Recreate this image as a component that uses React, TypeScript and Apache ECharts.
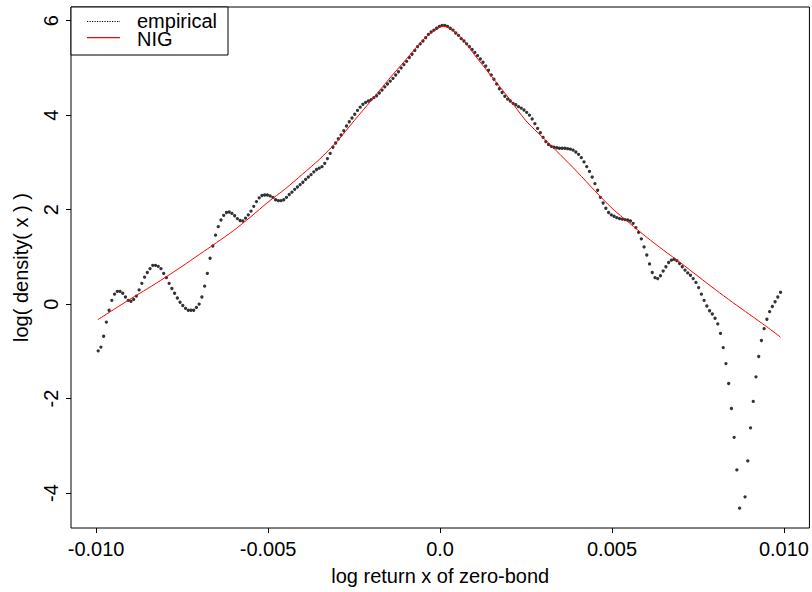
import React, { useEffect, useRef } from "react";
import * as echarts from "echarts";

// Empirical log-density, evaluated on an evenly spaced grid of 251 points
const gridStart = -0.00994;
const gridStep = 0.00007936;
const empirical: (number | null)[] = [
  -0.99, -0.91, -0.68, -0.38, -0.13, 0.08, 0.21, 0.27, 0.27, 0.23,
  0.15, 0.08, 0.06, 0.10, 0.17, 0.30, 0.44, 0.57, 0.67, 0.75,
  0.82, 0.82, 0.80, 0.75, 0.65, 0.56, 0.44, 0.33, 0.23, 0.13,
  0.04, -0.03, -0.09, -0.13, -0.13, -0.13, -0.07, 0.00, 0.15, 0.38,
  0.65, 0.97, 1.23, 1.46, 1.64, 1.78, 1.88, 1.94, 1.95, 1.92,
  1.87, 1.81, 1.77, 1.76, 1.82, 1.89, 1.97, 2.07, 2.17, 2.25,
  2.30, 2.31, 2.31, 2.29, 2.26, 2.21, 2.19, 2.19, 2.21, 2.26,
  2.32, 2.37, 2.43, 2.48, 2.53, 2.58, 2.64, 2.69, 2.74, 2.80,
  2.85, 2.88, 2.91, 2.98, 3.08, 3.19, 3.32, 3.41, 3.50, 3.58,
  3.67, 3.77, 3.86, 3.94, 4.02, 4.10, 4.17, 4.23, 4.27, 4.30,
  4.33, 4.37, 4.41, 4.47, 4.53, 4.60, 4.66, 4.72, 4.78, 4.85,
  4.92, 5.00, 5.07, 5.14, 5.22, 5.29, 5.37, 5.45, 5.51, 5.57,
  5.64, 5.71, 5.76, 5.80, 5.84, 5.88, 5.90, 5.90, 5.88, 5.84,
  5.80, 5.74, 5.69, 5.62, 5.57, 5.51, 5.45, 5.39, 5.33, 5.26,
  5.19, 5.12, 5.04, 4.95, 4.85, 4.76, 4.66, 4.56, 4.48, 4.40,
  4.34, 4.30, 4.25, 4.22, 4.18, 4.15, 4.11, 4.06, 4.00, 3.92,
  3.82, 3.72, 3.63, 3.53, 3.44, 3.38, 3.34, 3.32, 3.31, 3.30,
  3.30, 3.30, 3.29, 3.28, 3.26, 3.22, 3.17, 3.10, 3.01, 2.91,
  2.81, 2.69, 2.55, 2.41, 2.26, 2.14, 2.03, 1.94, 1.89, 1.86,
  1.83, 1.81, 1.80, 1.79, 1.78, 1.76, 1.71, 1.62, 1.52, 1.38,
  1.21, 1.04, 0.85, 0.67, 0.56, 0.54, 0.60, 0.70, 0.79, 0.88,
  0.93, 0.95, 0.92, 0.86, 0.79, 0.72, 0.66, 0.61, 0.54, 0.46,
  0.35, 0.21, 0.08, -0.04, -0.14, -0.21, -0.30, -0.42, -0.62, -0.92,
  -1.26, -1.68, -2.21, -2.82, -3.51, -4.32, null, -4.08, -3.32, -2.62,
  -2.06, -1.54, -1.11, -0.77, -0.52, -0.32, -0.16, -0.05, 0.05, 0.15,
  0.25,
];

// Fitted NIG log-density
const nigX = [
  -0.00995, -0.0095, -0.009, -0.0085, -0.008, -0.0075, -0.007, -0.0065, -0.006, -0.0055,
  -0.005, -0.0045, -0.004, -0.0035, -0.003, -0.0025, -0.002, -0.0015, -0.001, -0.0005,
  -0.00025, 0, 0.0001, 0.00025, 0.0005, 0.00075, 0.001, 0.0015, 0.002, 0.0025,
  0.003, 0.0035, 0.004, 0.0045, 0.005, 0.0055, 0.006, 0.0065, 0.007, 0.0075,
  0.008, 0.0085, 0.009, 0.0095, 0.0099,
];
const nigY = [
  -0.33, -0.12, 0.11, 0.33, 0.56, 0.80, 1.05, 1.30, 1.56, 1.85,
  2.16, 2.44, 2.75, 3.07, 3.44, 3.88, 4.31, 4.75, 5.17, 5.59,
  5.75, 5.86, 5.88, 5.85, 5.72, 5.53, 5.28, 4.82, 4.36, 3.88,
  3.52, 3.16, 2.79, 2.40, 2.03, 1.72, 1.42, 1.14, 0.87, 0.59,
  0.31, 0.04, -0.22, -0.48, -0.70,
];

const xTickValues = [-0.01, -0.005, 0, 0.005, 0.01];
const xTickLabels = ["-0.010", "-0.005", "0.0", "0.005", "0.010"];
const yTickValues = [-4, -2, 0, 2, 4, 6];
const yTickLabels = ["-4", "-2", "0", "2", "4", "6"];

const legendNames = ["empirical", "NIG"];

const FONT = "'Liberation Sans', Arial, Helvetica, sans-serif";

export default function App() {
  const ref = useRef<HTMLDivElement>(null);
  useEffect(() => {
    if (!ref.current) return;
    const chart = echarts.init(ref.current, undefined, { renderer: "svg" });
    const empData: [number, number][] = [];
    empirical.forEach((v, i) => {
      if (v !== null) empData.push([gridStart + i * gridStep, v]);
    });
    const nigData = nigX.map((x, i) => [x, nigY[i]]);
    const findLabel = (vals: number[], labels: string[], v: number) => {
      let best = 0;
      vals.forEach((t, i) => {
        if (Math.abs(t - v) < Math.abs(vals[best] - v)) best = i;
      });
      return labels[best];
    };
    chart.setOption({
      animation: false,
      backgroundColor: "#ffffff",
      grid: {
        left: 71,
        right: 1,
        top: 7,
        bottom: 64,
        show: true,
        borderColor: "#000",
        borderWidth: 1,
        backgroundColor: "transparent",
      },
      xAxis: {
        type: "value",
        min: -0.01073,
        max: 0.01074,
        name: "log return x of zero-bond",
        nameLocation: "middle",
        nameGap: 38,
        nameTextStyle: { color: "#000", fontSize: 20, fontFamily: FONT },
        axisLine: { show: false, onZero: false },
        splitLine: { show: false },
        axisTick: {
          show: true,
          inside: false,
          length: 5,
          customValues: xTickValues,
          lineStyle: { color: "#000", width: 1 },
        },
        axisLabel: {
          customValues: xTickValues,
          formatter: (v: number) => findLabel(xTickValues, xTickLabels, v),
          color: "#000",
          fontSize: 20,
          fontFamily: FONT,
          margin: 11,
        },
      },
      yAxis: {
        type: "value",
        min: -4.74,
        max: 6.29,
        name: "log( density( x ) )",
        nameLocation: "middle",
        nameGap: 40,
        nameRotate: 90,
        nameTextStyle: { color: "#000", fontSize: 20, fontFamily: FONT },
        axisLine: { show: false, onZero: false },
        splitLine: { show: false },
        axisTick: {
          show: true,
          inside: false,
          length: 5,
          customValues: yTickValues,
          lineStyle: { color: "#000", width: 1 },
        },
        axisLabel: {
          customValues: yTickValues,
          formatter: (v: number) => findLabel(yTickValues, yTickLabels, v),
          rotate: 90,
          color: "#000",
          fontSize: 20,
          fontFamily: FONT,
          margin: 10,
          showMaxLabel: true,
          showMinLabel: true,
        },
      },
      series: [
        {
          name: legendNames[0],
          type: "scatter",
          data: empData,
          symbol: "circle",
          symbolSize: 3.3,
          itemStyle: { color: "#000" },
          z: 2,
        },
        {
          name: legendNames[1],
          type: "line",
          data: nigData,
          showSymbol: false,
          smooth: 0.3,
          lineStyle: { color: "#ff0000", width: 1 },
          z: 3,
        },
      ],
      graphic: [
        {
          type: "rect",
          shape: { x: 71, y: 7, width: 157, height: 48 },
          style: { fill: "#fff", stroke: "#000", lineWidth: 1 },
          z: 10,
        },
        {
          type: "line",
          shape: { x1: 87, y1: 21.5, x2: 120, y2: 21.5 },
          style: { stroke: "#000", lineWidth: 1, lineDash: [1.2, 1.3] },
          z: 11,
        },
        {
          type: "rect",
          shape: { x: 87, y: 37, width: 33, height: 1.2 },
          style: { fill: "#ff0000" },
          z: 11,
        },
        {
          type: "text",
          x: 137,
          y: 21,
          style: {
            text: legendNames[0],
            fill: "#000",
            fontSize: 20,
            lineHeight: 16,
            fontFamily: FONT,
            verticalAlign: "middle",
            align: "left",
          },
          z: 11,
        },
        {
          type: "text",
          x: 137,
          y: 38.5,
          style: {
            text: legendNames[1],
            fill: "#000",
            fontSize: 20,
            lineHeight: 16,
            fontFamily: FONT,
            verticalAlign: "middle",
            align: "left",
          },
          z: 11,
        },
      ],
    });
    return () => chart.dispose();
  }, []);
  return (
    <div
      ref={ref}
      style={{ position: "fixed", left: 0, top: 0, width: 812, height: 592 }}
    />
  );
}
